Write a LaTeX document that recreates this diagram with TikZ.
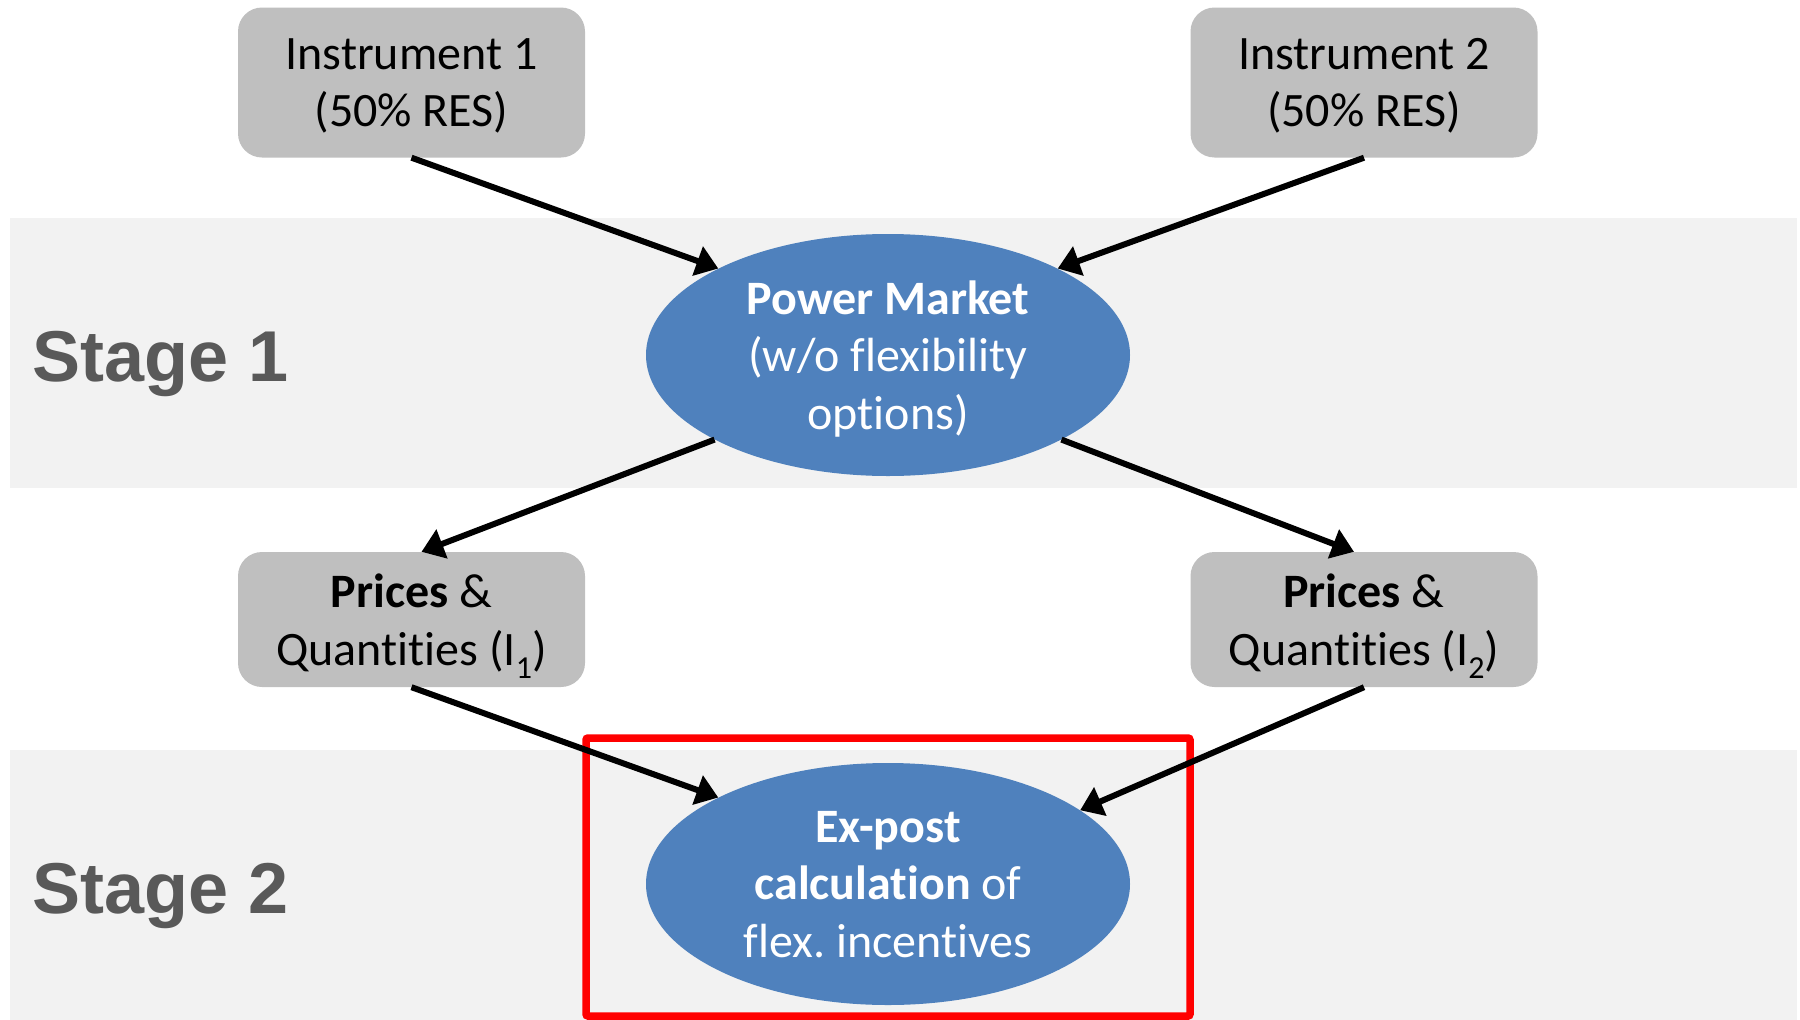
\documentclass[tikz,border=0pt]{standalone}
\usepackage{fontspec}
\setmainfont{Carlito}[RawFeature={-liga}]
\newfontfamily\stagefont{Liberation Sans}
\usetikzlibrary{shapes.geometric,arrows.meta}
\definecolor{boxgray}{HTML}{BFBFBF}
\definecolor{bandgray}{HTML}{F2F2F2}
\definecolor{mktblue}{HTML}{4F81BD}
\definecolor{stagegray}{HTML}{595959}
\tikzset{
  inputbox/.style={fill=boxgray, rounded corners=24pt, minimum width=347pt, minimum height=150pt,
    inner sep=0pt, align=center, text depth=0pt, font=\fontsize{48}{57.5}\selectfont},
  resultbox/.style={inputbox, minimum height=135pt},
  marketoval/.style={ellipse, fill=mktblue, minimum width=484pt, minimum height=242pt,
    inner sep=0pt, align=center, text depth=0pt, text=white, font=\fontsize{48}{57.5}\selectfont},
  band/.style={fill=bandgray, draw=none},
  stagelabel/.style={anchor=base west, text=stagegray, font=\stagefont\bfseries\fontsize{72}{72}\selectfont},
  flow/.style={draw=black, line width=6pt, -{Triangle[length=22pt,width=30pt]}},
  focusframe/.style={draw=red, line width=7.5pt, rounded corners=2pt}
}
\newcommand{\subidx}[1]{\raisebox{-0.28em}[0pt][0pt]{\fontsize{32}{32}\selectfont #1}}
\frenchspacing
\begin{document}
\begin{tikzpicture}[x=1pt,y=-1pt]
  \useasboundingbox (0,0) rectangle (1800,1020);
  % stage bands
  \path[band] (10,218) rectangle (1797,488);
  \path[band] (10,750) rectangle (1797,1020);
  \node[stagelabel] (s1) at (29,381) {Stage 1};
  \node[stagelabel] (s2) at (29,913) {Stage 2};

  % instruments
  \node[inputbox] (i1) at (411.5,82.5) {Instrument 1\\(50\% RES)};
  \node[inputbox] (i2) at (1364,82.5) {Instrument 2\\(50\% RES)};

  % first-stage market model
  \node[marketoval] (pm) at (888,355) {\textbf{Power Market}\\(w/o flexibility\\options)};

  % results per instrument
  \node[resultbox] (p1) at (411.5,619.5) {\textbf{Prices} \&\\Quantities (I\subidx{1})};
  \node[resultbox] (p2) at (1364,619.5) {\textbf{Prices} \&\\Quantities (I\subidx{2})};

  % second-stage evaluation
  \node[marketoval] (ep) at (888,884) {\textbf{Ex-post}\\\textbf{calculation} of\\flex. incentives};
  \path[focusframe] (586,738) rectangle (1190,1016);

  % flows
  \draw[flow] (i1.south) -- (pm.153);
  \draw[flow] (i2.south) -- (pm.27);
  \draw[flow] (pm.206) -- ([xshift=10pt]p1.north);
  \draw[flow] (pm.334) -- ([xshift=-10pt]p2.north);
  \draw[flow] (p1.south) -- (ep.153);
  \draw[flow] (p2.south) -- (ep.21);
\end{tikzpicture}
\end{document}
